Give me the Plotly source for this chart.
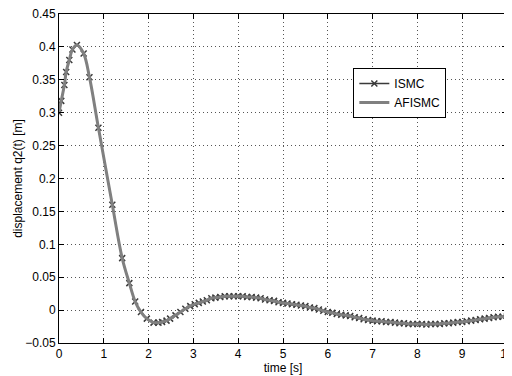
import plotly.graph_objects as go

# ISMC readings (time [s], displacement [m])
t_ismc = [0, 0.05, 0.12, 0.16, 0.23, 0.30, 0.40, 0.55, 0.68, 0.88, 1.19, 1.41, 1.57, 1.70, 1.83, 1.96,
          2.11, 2.22, 2.30, 2.40, 2.48, 2.60, 2.71, 2.82, 2.93, 3.03, 3.12, 3.21, 3.30, 3.40, 3.49,
          3.6, 3.7, 3.8, 3.9, 4.0, 4.1, 4.2, 4.3, 4.4, 4.5, 4.6, 4.7, 4.8, 4.9, 5.0,
          5.1, 5.2, 5.3, 5.4, 5.5, 5.6, 5.7, 5.8, 5.9, 6.0, 6.1, 6.2, 6.3, 6.4, 6.5,
          6.6, 6.7, 6.8, 6.9, 7.0, 7.1, 7.2, 7.3, 7.4, 7.5, 7.6, 7.7, 7.8, 7.9, 8.0,
          8.1, 8.2, 8.3, 8.4, 8.5, 8.6, 8.7, 8.8, 8.9, 9.0, 9.1, 9.2, 9.3, 9.4, 9.5,
          9.6, 9.7, 9.8, 9.9, 10.0]
q_ismc = [0.300, 0.318, 0.342, 0.362, 0.380, 0.396, 0.403, 0.390, 0.354, 0.277, 0.160, 0.079, 0.041, 0.013, -0.003, -0.013,
          -0.019, -0.019, -0.018, -0.016, -0.013, -0.008, -0.003, 0.002, 0.006, 0.009, 0.011, 0.013, 0.015, 0.018, 0.019,
          0.020, 0.021, 0.021, 0.021, 0.021, 0.021, 0.020, 0.020, 0.019, 0.018, 0.016, 0.015, 0.014, 0.012, 0.011,
          0.010, 0.009, 0.008, 0.007, 0.006, 0.004, 0.003, 0.001, -0.001, -0.003, -0.004, -0.006, -0.007, -0.008, -0.009,
          -0.011, -0.012, -0.014, -0.015, -0.016, -0.017, -0.017, -0.018, -0.018, -0.019, -0.020, -0.020, -0.021, -0.021, -0.021,
          -0.021, -0.022, -0.021, -0.021, -0.021, -0.020, -0.020, -0.019, -0.018, -0.018, -0.017, -0.016, -0.015, -0.014, -0.013,
          -0.012, -0.011, -0.010, -0.010, -0.009]

# AFISMC readings (curve coincides with ISMC)
t_afismc = list(t_ismc)
q_afismc = list(q_ismc)

x_ticks = [0, 1, 2, 3, 4, 5, 6, 7, 8, 9, 10]
y_ticks = [-0.05, 0, 0.05, 0.1, 0.15, 0.2, 0.25, 0.3, 0.35, 0.4, 0.45]
y_tick_labels = ["\u22120.05", "0", "0.05", "0.1", "0.15", "0.2", "0.25", "0.3", "0.35", "0.4", "0.45"]

FONT = "Liberation Sans, Arial"

fig = go.Figure()
fig.add_trace(go.Scatter(
    x=t_ismc, y=q_ismc, name="ISMC", mode="lines+markers",
    line=dict(color="#3a3a3a", width=1.5, shape="spline"),
    marker=dict(symbol="x-thin", size=6, line=dict(color="#3a3a3a", width=1.5)),
))
fig.add_trace(go.Scatter(
    x=t_afismc, y=q_afismc, name="AFISMC", mode="lines",
    line=dict(color="#808080", width=3, shape="spline"),
))

axis_common = dict(
    showline=True, linecolor="black", linewidth=1, mirror="ticks",
    ticks="inside", ticklen=5, tickcolor="black", automargin=False,
    showgrid=True, gridcolor="#555555", griddash="1px,3px", gridwidth=1,
    zeroline=False, tickfont=dict(family=FONT, size=12, color="black"),
    ticklabeloverflow="allow",
)

fig.update_xaxes(range=[0, 10.0001], tickmode="array", tickvals=x_ticks,
                 title=dict(text="time [s]", font=dict(family=FONT, size=12, color="black"), standoff=0),
                 **axis_common)
fig.update_yaxes(range=[-0.05, 0.45001], tickmode="array", tickvals=y_ticks, ticktext=y_tick_labels,
                 title=dict(text="displacement q2(t) [m]", font=dict(family=FONT, size=12, color="black"), standoff=0),
                 **axis_common)

# page body adds an 8px offset, so the figure is sized to fit the 512x376 window
fig.update_layout(
    width=504, height=368,
    margin=dict(l=51, r=5, t=6, b=33),
    paper_bgcolor="white", plot_bgcolor="white",
    showlegend=True,
    legend=dict(x=0.657, y=0.76, xanchor="left", yanchor="middle",
                bgcolor="white", bordercolor="black", borderwidth=1,
                font=dict(family=FONT, size=12, color="black"),
                tracegroupgap=0, itemwidth=30),
)

fig.write_html("out.html")
